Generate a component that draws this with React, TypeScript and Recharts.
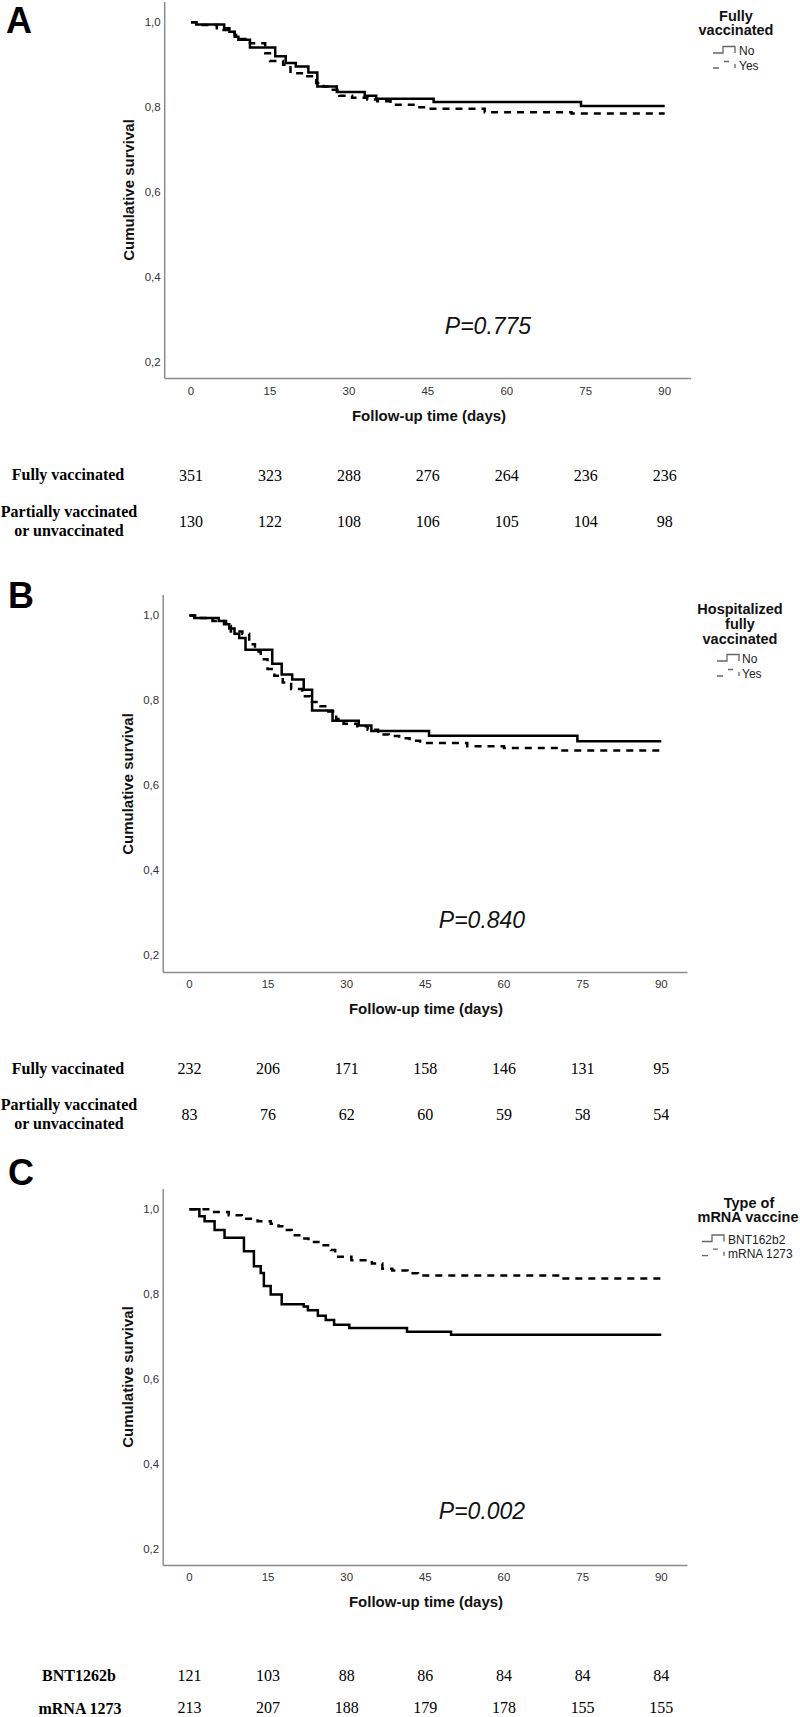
import React from 'react';
import { LineChart, Line, XAxis, YAxis } from 'recharts';

// ---------- shared axis values ----------
const dayTicks = [0, 15, 30, 45, 60, 75, 90];
const survivalTicks = [0.2, 0.4, 0.6, 0.8, 1.0];

// ---------- Panel A : Fully vaccinated (No / Yes) ----------
const aNo: [number, number][] = [
  [0, 1.0], [1.0, 0.995], [6.3, 0.986], [7.3, 0.978], [8.3, 0.966], [9.0, 0.959],
  [11.2, 0.941], [16.0, 0.92], [18.0, 0.904], [19.9, 0.896], [22.3, 0.882], [24.0, 0.849],
  [27.7, 0.836], [33.0, 0.827], [35.2, 0.82], [46.1, 0.812], [74.1, 0.803], [90, 0.803],
];
const aYes: [number, number][] = [
  [0, 1.0], [1.0, 0.994], [4.9, 0.982], [8.3, 0.97], [9.2, 0.961], [11.2, 0.951],
  [14.1, 0.927], [15.0, 0.909], [17.5, 0.9], [18.9, 0.88], [21.8, 0.873], [23.8, 0.857],
  [25.2, 0.849], [26.7, 0.841], [28.2, 0.827], [30.6, 0.822], [33.5, 0.818], [35.4, 0.814],
  [37.9, 0.806], [42.7, 0.8], [45.1, 0.796], [55.8, 0.788], [72.3, 0.785], [90, 0.785],
];
const aRiskFully = [351, 323, 288, 276, 264, 236, 236];
const aRiskPartial = [130, 122, 108, 106, 105, 104, 98];

// ---------- Panel B : Hospitalized fully vaccinated (No / Yes) ----------
const bNo: [number, number][] = [
  [0, 1.0], [0.9, 0.994], [5.6, 0.987], [6.6, 0.979], [7.6, 0.969], [8.6, 0.957],
  [9.5, 0.947], [10.7, 0.919], [15.8, 0.886], [17.6, 0.861], [19.6, 0.849], [21.8, 0.825],
  [23.4, 0.776], [27.3, 0.752], [32.3, 0.741], [34.7, 0.728], [45.7, 0.717], [74.0, 0.704],
  [90, 0.704],
];
const bYes: [number, number][] = [
  [0, 1.0], [1.5, 0.994], [4.4, 0.987], [7.0, 0.975], [7.9, 0.962], [10.1, 0.957],
  [11.4, 0.932], [12.5, 0.915], [13.6, 0.897], [14.9, 0.874], [16.2, 0.858], [17.8, 0.842],
  [19.4, 0.827], [21.5, 0.81], [23.0, 0.796], [25.0, 0.786], [26.5, 0.774], [28.0, 0.756],
  [29.4, 0.745], [32.0, 0.739], [34.0, 0.731], [36.0, 0.72], [38.0, 0.716], [40.0, 0.711],
  [42.0, 0.705], [44.0, 0.7], [53.0, 0.692], [60.0, 0.688], [70.8, 0.682], [90, 0.682],
];
const bRiskFully = [232, 206, 171, 158, 146, 131, 95];
const bRiskPartial = [83, 76, 62, 60, 59, 58, 54];

// ---------- Panel C : Type of mRNA vaccine ----------
const cBnt: [number, number][] = [
  [0, 1.0], [1.9, 0.984], [2.9, 0.972], [4.8, 0.951], [6.7, 0.933], [10.4, 0.901],
  [12.3, 0.866], [13.6, 0.85], [14.2, 0.819], [15.5, 0.799], [17.6, 0.776], [21.8, 0.771],
  [22.6, 0.762], [24.5, 0.749], [26.0, 0.739], [27.6, 0.728], [30.5, 0.72], [41.5, 0.711],
  [49.9, 0.704], [90, 0.704],
];
const cMrna: [number, number][] = [
  [0, 1.0], [4.0, 0.994], [7.5, 0.986], [10.0, 0.978], [13.0, 0.972], [15.5, 0.966],
  [17.0, 0.96], [18.3, 0.951], [19.5, 0.939], [21.2, 0.931], [22.7, 0.923], [24.6, 0.915],
  [27.0, 0.904], [27.8, 0.888], [30.9, 0.88], [34.8, 0.872], [36.8, 0.86], [38.7, 0.856],
  [41.6, 0.849], [43.6, 0.844], [70.8, 0.837], [90, 0.837],
];
const cRiskBnt = [121, 103, 88, 86, 84, 84, 84];
const cRiskMrna = [213, 207, 188, 179, 178, 155, 155];

// ---------- helpers ----------
const toRows = (pts: [number, number][]) => pts.map(([day, surv]) => ({ day, surv }));

const SANS = '"Liberation Sans", Arial, sans-serif';
const SERIF = '"Liberation Serif", "Times New Roman", serif';
const AXIS_GRAY = '#8c8c8c';

type PanelProps = {
  top: number;
  plotH: number;
  left: number;
  right: number;
  solid: [number, number][];
  dashed: [number, number][];
  row1: number[];
  row2: number[];
  off1: number;
  off2: number;
};

const makeTick = (row1: number[], row2: number[], off1: number, off2: number) => (props: any) => {
  const { x, y, payload } = props;
  const i = dayTicks.indexOf(payload.value);
  return (
    <g>
      <text x={x} y={y + 16} textAnchor="middle" fontSize={11.5} fontFamily={SANS} fill="#333">
        {payload.value}
      </text>
      <text x={x} y={y + off1} textAnchor="middle" fontSize={16} fontFamily={SERIF} fill="#000">
        {row1[i]}
      </text>
      <text x={x} y={y + off2} textAnchor="middle" fontSize={16} fontFamily={SERIF} fill="#000">
        {row2[i]}
      </text>
    </g>
  );
};

const XH = 170;

function Panel({ top, plotH, left, right, solid, dashed, row1, row2, off1, off2 }: PanelProps) {
  return (
    <div style={{ position: 'absolute', left: 0, top, width: 800, height: plotH + XH }}>
      <LineChart
        width={800}
        height={plotH + XH}
        margin={{ top: 0, right: 800 - right, bottom: 0, left: left - 60 }}
      >
        <XAxis
          type="number"
          dataKey="day"
          domain={[-5, 95]}
          ticks={dayTicks}
          interval={0}
          allowDataOverflow
          axisLine={{ stroke: AXIS_GRAY, strokeWidth: 1.5 }}
          tickLine={false}
          tickSize={0}
          tickMargin={0}
          height={XH}
          tick={makeTick(row1, row2, off1, off2)}
        />
        <YAxis
          type="number"
          domain={[0.16, 1.048]}
          ticks={survivalTicks}
          interval={0}
          allowDataOverflow
          width={60}
          axisLine={{ stroke: AXIS_GRAY, strokeWidth: 1.5 }}
          tickLine={false}
          tickSize={0}
          tickMargin={4}
          tickFormatter={(v: number) => v.toFixed(1).replace('.', ',')}
          tick={{ fontSize: 11.5, fill: '#333', fontFamily: SANS }}
        />
        <Line
          data={toRows(dashed)}
          dataKey="surv"
          type="stepAfter"
          stroke="#000"
          strokeWidth={2.5}
          strokeDasharray="7 6"
          dot={false}
          isAnimationActive={false}
        />
        <Line
          data={toRows(solid)}
          dataKey="surv"
          type="stepAfter"
          stroke="#000"
          strokeWidth={2.5}
          dot={false}
          isAnimationActive={false}
        />
      </LineChart>
    </div>
  );
}

function LegendIcons({ x0, yNo, yYes }: { x0: number; yNo: number; yYes: number }) {
  const s = { stroke: '#666', strokeWidth: 1.3, fill: 'none' };
  return (
    <g>
      <path d={`M${x0},${yNo - 2} H${x0 + 10} V${yNo - 8.5} H${x0 + 22} V${yNo - 2}`} {...s} />
      <path d={`M${x0},${yYes - 2} H${x0 + 6} M${x0 + 11},${yYes - 8.5} H${x0 + 16} M${x0 + 22},${yYes - 6} V${yYes - 2}`} {...s} />
    </g>
  );
}

export default function App() {
  const letter = { fontFamily: SANS, fontWeight: 700, fontSize: 36, fill: '#000' } as const;
  const ytitle = { fontFamily: SANS, fontWeight: 700, fontSize: 15, fill: '#111', textAnchor: 'middle' } as const;
  const xtitle = { fontFamily: SANS, fontWeight: 700, fontSize: 15, fill: '#111', textAnchor: 'middle' } as const;
  const pval = { fontFamily: SANS, fontStyle: 'italic', fontSize: 23, fill: '#111', textAnchor: 'middle' } as const;
  const legT = { fontFamily: SANS, fontWeight: 700, fontSize: 14.5, fill: '#111', textAnchor: 'middle' } as const;
  const legI = { fontFamily: SANS, fontSize: 12, fill: '#222' } as const;
  const rowL = { fontFamily: SERIF, fontWeight: 700, fontSize: 16, fill: '#000', textAnchor: 'middle' } as const;

  return (
    <div
      style={{
        position: 'absolute',
        left: 0,
        top: 0,
        width: 800,
        height: 1717,
        overflow: 'hidden',
        background: '#fff',
      }}
    >
      <Panel top={1.5} plotH={376.6} left={164.7} right={691} solid={aNo} dashed={aYes}
        row1={aRiskFully} row2={aRiskPartial} off1={102} off2={148} />
      <Panel top={595.2} plotH={377.4} left={163.2} right={687.5} solid={bNo} dashed={bYes}
        row1={bRiskFully} row2={bRiskPartial} off1={101.5} off2={147.5} />
      <Panel top={1189.3} plotH={376.4} left={163.2} right={687.5} solid={cBnt} dashed={cMrna}
        row1={cRiskBnt} row2={cRiskMrna} off1={115.3} off2={148} />

      <svg
        width={800}
        height={1717}
        style={{ position: 'absolute', left: 0, top: 0, pointerEvents: 'none' }}
      >
        {/* panel letters */}
        <text x={6} y={33.3} {...letter}>A</text>
        <text x={8} y={608.3} {...letter}>B</text>
        <text x={8} y={1185} {...letter}>C</text>

        {/* y-axis titles */}
        <text transform="translate(134,190) rotate(-90)" {...ytitle}>Cumulative survival</text>
        <text transform="translate(133,784) rotate(-90)" {...ytitle}>Cumulative survival</text>
        <text transform="translate(133,1377) rotate(-90)" {...ytitle}>Cumulative survival</text>

        {/* x-axis titles */}
        <text x={429} y={420.7} {...xtitle}>Follow-up time (days)</text>
        <text x={426} y={1014} {...xtitle}>Follow-up time (days)</text>
        <text x={426} y={1607.4} {...xtitle}>Follow-up time (days)</text>

        {/* p-values */}
        <text x={488} y={334.3} {...pval}>P=0.775</text>
        <text x={482} y={927.7} {...pval}>P=0.840</text>
        <text x={482} y={1519} {...pval}>P=0.002</text>

        {/* legend A */}
        <text x={736} y={21} {...legT}>Fully</text>
        <text x={736} y={34.5} {...legT}>vaccinated</text>
        <LegendIcons x0={713} yNo={55} yYes={70} />
        <text x={739} y={55} {...legI}>No</text>
        <text x={739} y={70} {...legI}>Yes</text>

        {/* legend B */}
        <text x={740} y={614} {...legT}>Hospitalized</text>
        <text x={740} y={628.5} {...legT}>fully</text>
        <text x={740} y={644} {...legT}>vaccinated</text>
        <LegendIcons x0={717} yNo={663} yYes={678} />
        <text x={742} y={663} {...legI}>No</text>
        <text x={742} y={678} {...legI}>Yes</text>

        {/* legend C */}
        <text x={749} y={1207.5} {...legT}>Type of</text>
        <text x={748} y={1222.4} {...legT}>mRNA vaccine</text>
        <LegendIcons x0={702} yNo={1243.5} yYes={1257.7} />
        <text x={728} y={1243.5} {...legI}>BNT162b2</text>
        <text x={728} y={1257.7} {...legI}>mRNA 1273</text>

        {/* number-at-risk row labels */}
        <text x={68} y={479.6} {...rowL}>Fully vaccinated</text>
        <text x={69} y={517.3} {...rowL}>Partially vaccinated</text>
        <text x={69} y={535.5} {...rowL}>or unvaccinated</text>

        <text x={68} y={1074} {...rowL}>Fully vaccinated</text>
        <text x={69} y={1110} {...rowL}>Partially vaccinated</text>
        <text x={69} y={1129} {...rowL}>or unvaccinated</text>

        <text x={79} y={1681} {...rowL}>BNT1262b</text>
        <text x={80} y={1713.7} {...rowL}>mRNA 1273</text>
      </svg>
    </div>
  );
}
